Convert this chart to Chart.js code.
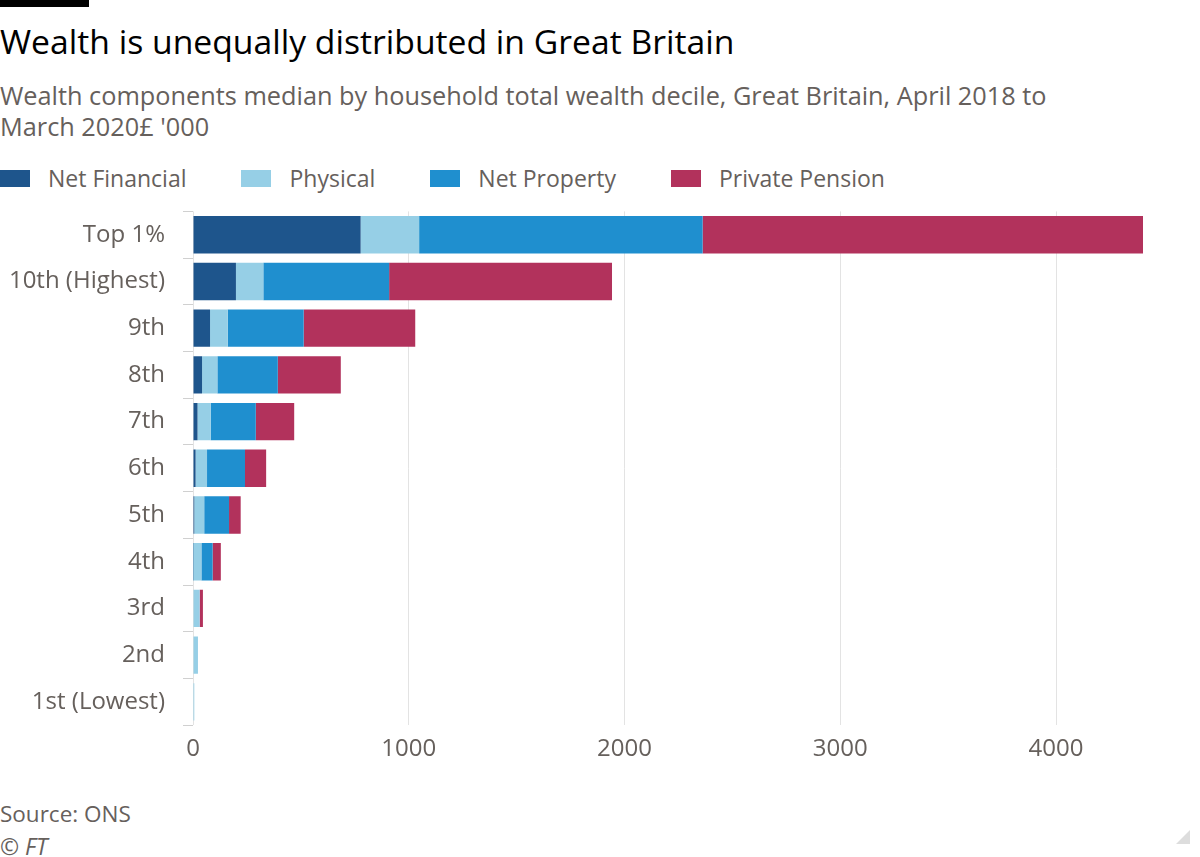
<!DOCTYPE html>
<html>
<head>
<meta charset="utf-8">
<script src="https://cdn.jsdelivr.net/npm/chart.js@4"></script>
<style>
  body { margin: 0; width: 1200px; height: 857px; background: #fff; font-family: "Open Sans", sans-serif; position: relative; overflow: hidden; }
  .topbar { position: absolute; left: 0; top: 0; width: 89px; height: 7px; background: #000; }
  h1 { position: absolute; left: 0; top: 18px; margin: 0; font-weight: 400; font-size: 33.7px; color: #000; white-space: nowrap; }
  .sub { position: absolute; left: 0; top: 80px; margin: 0; font-size: 25.3px; line-height: 31px; color: #66605c; white-space: nowrap; }
  #legend { position: absolute; left: 0; top: 162px; display: flex; gap: 55px; font-size: 23px; color: #66605c; }
  #legend .item { display: flex; align-items: center; }
  #legend .box { width: 30px; height: 17px; margin-right: 18px; }
  #wrap { position: absolute; left: 0; top: 179px; width: 1200px; height: 614px; }
  .source { position: absolute; left: 0; top: 798px; font-size: 22.5px; color: #66605c; }
  .ft { position: absolute; left: 0; top: 830px; font-size: 23px; color: #66605c; font-style: italic; }
  .corner { position: absolute; left: 1176px; top: 830px; width: 0; height: 0; border-left: 14px solid transparent; border-bottom: 14px solid #ddd; }
</style>
</head>
<body>
<div class="topbar"></div>
<h1>Wealth is unequally distributed in Great Britain</h1>
<p class="sub">Wealth components median by household total wealth decile, Great Britain, April 2018 to<br>March 2020£ '000</p>
<div id="legend"></div>
<div id="wrap"><canvas id="chart"></canvas></div>
<div class="source">Source: ONS</div>
<div class="ft">© FT</div>
<div class="corner"></div>
<script>
// values, £ '000
const categories = ['Top 1%', '10th (Highest)', '9th', '8th', '7th', '6th', '5th', '4th', '3rd', '2nd', '1st (Lowest)'];
const netFinancial = [777, 199, 79, 42, 21, 12, 6, 1, 0, 0, 0];
const physical = [271, 127, 82, 71, 61, 53, 46, 38, 31, 23, 6];
const netProperty = [1314, 583, 352, 280, 209, 176, 115, 52, 0, 0, 0];
const privatePension = [2041, 1033, 517, 292, 178, 98, 54, 38, 15, 0, 0];
const xTicks = [0, 1000, 2000, 3000, 4000];

const seriesNames = ['Net Financial', 'Physical', 'Net Property', 'Private Pension'];
const seriesColors = ['#1e558c', '#96cfe6', '#1f8fcf', '#b2325c'];
const seriesData = [netFinancial, physical, netProperty, privatePension];

const totals = categories.map((c, i) => seriesData.reduce((s, d) => s + d[i], 0));
const xMax = Math.max(...totals);

const datasets = seriesNames.map((name, k) => ({
    label: name,
    data: seriesData[k],
    backgroundColor: seriesColors[k],
    borderWidth: 0,
    barPercentage: 0.8,
    categoryPercentage: 1.0
}));

// html legend built from the datasets
const legendEl = document.getElementById('legend');
datasets.forEach(ds => {
    const item = document.createElement('div');
    item.className = 'item';
    item.innerHTML = `<span class="box" style="background:${ds.backgroundColor}"></span><span>${ds.label}</span>`;
    legendEl.appendChild(item);
});

const tickFont = { family: '"Open Sans", sans-serif', size: 24 };

new Chart(document.getElementById('chart').getContext('2d'), {
    type: 'bar',
    data: { labels: categories, datasets: datasets },
    options: {
        indexAxis: 'y',
        responsive: true,
        maintainAspectRatio: false,
        animation: false,
        layout: { padding: { top: 10, right: 57, bottom: 19, left: 0 } },
        plugins: { legend: { display: false }, tooltip: { enabled: false } },
        scales: {
            x: {
                stacked: true,
                min: 0,
                max: xMax,
                afterBuildTicks: (scale) => {
                    scale.ticks = xTicks.map(v => ({ value: v }));
                },
                grid: { color: '#e3e3e3', lineWidth: 1, drawTicks: false },
                border: { display: false },
                ticks: { color: '#66605c', font: tickFont, padding: 10, callback: (v) => String(v) }
            },
            y: {
                stacked: true,
                afterFit: (scale) => { scale.width = 193; },
                grid: { drawOnChartArea: false, tickLength: 10, color: '#d0d0d0' },
                border: { display: false },
                ticks: { color: '#66605c', font: tickFont, padding: 18 }
            }
        }
    }
});
</script>
</body>
</html>
